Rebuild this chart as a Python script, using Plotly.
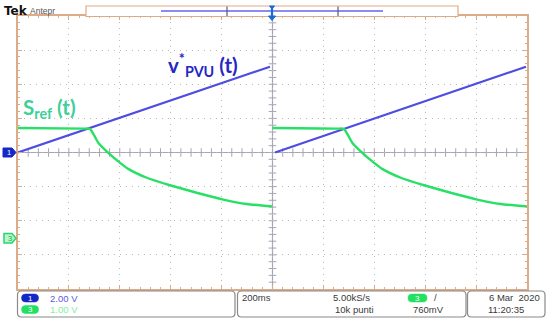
import plotly.graph_objects as go

# ---- data (seconds, volts) ----
t_blue = [0.0, 0.99, None, 1.01, 1.996]
v_blue = [0.0, 5.03, None, 0.0, 5.03]

t_green1 = [0.0, 0.26, 0.283, 0.316, 0.355, 0.394, 0.433, 0.506, 0.597, 0.702, 0.807, 0.899, 0.998]
v_green1 = [3.22, 3.20, 3.19, 2.78, 2.49, 2.24, 2.02, 1.76, 1.54, 1.32, 1.12, 0.99, 0.92]
t_green2 = [1.0, 1.258, 1.281, 1.314, 1.353, 1.392, 1.431, 1.504, 1.595, 1.700, 1.805, 1.897, 2.0]
v_green2 = [3.22, 3.20, 3.19, 2.78, 2.49, 2.24, 2.02, 1.76, 1.54, 1.32, 1.12, 0.99, 0.92]

ch1_label = "2.00 V"
ch3_label = "1.00 V"
timebase = "200ms"
rate = "5.00kS/s"
points = "10k punti"
trig_level = "760mV"
date_txt = "6 Mar  2020"
time_txt = "11:20:35"

# ---- layout geometry (pixels) ----
W, H = 550, 323
PL, PR, PT, PB = 18, 527, 16, 289

def px(X):
    return (X - PL) / (PR - PL)

def py(Y):
    return (PB - Y) / (PB - PT)

BLUE = "#4f4ce2"
GREEN = "#27e065"
BORDER = "#dcab88"
GRID = "#b9b9b9"
CENTER = "#a5a5b5"

fig = go.Figure()
fig.add_trace(go.Scatter(x=t_blue, y=v_blue, mode="lines", line=dict(color=BLUE, width=2.2),
                         connectgaps=False, yaxis="y", showlegend=False, hoverinfo="skip"))
fig.add_trace(go.Scatter(x=t_green1, y=v_green1, mode="lines",
                         line=dict(color=GREEN, width=2.4, shape="spline", smoothing=0.6),
                         yaxis="y2", showlegend=False, hoverinfo="skip"))
fig.add_trace(go.Scatter(x=t_green2, y=v_green2, mode="lines",
                         line=dict(color=GREEN, width=2.4, shape="spline", smoothing=0.6),
                         yaxis="y2", showlegend=False, hoverinfo="skip"))

shapes = []
# center cross lines
shapes.append(dict(type="line", xref="x", yref="paper", x0=1.0, x1=1.0, y0=0, y1=1,
                   line=dict(color=CENTER, width=1.2), layer="below"))
shapes.append(dict(type="line", xref="paper", yref="y", x0=0, x1=1, y0=0, y1=0,
                   line=dict(color=CENTER, width=1.2), layer="below"))
# tick marks on center lines
for i in range(1, 50):
    tx = i * 0.04
    shapes.append(dict(type="line", xref="x", yref="y", x0=tx, x1=tx, y0=-0.25, y1=0.25,
                       line=dict(color=CENTER, width=1), layer="below"))
for i in range(1, 40):
    ty = -8 + i * 0.4
    shapes.append(dict(type="line", xref="x", yref="y", x0=0.985, x1=1.015, y0=ty, y1=ty,
                       line=dict(color=CENTER, width=1), layer="below"))

def rrect(x0, y0, x1, y1, r=4):
    # rounded rectangle in pixel coordinates -> paper path
    def P(X, Y):
        return f"{px(X):.5f},{py(Y):.5f}"
    return ("M " + P(x0 + r, y0) + " L " + P(x1 - r, y0) + " Q " + P(x1, y0) + " " + P(x1, y0 + r) +
            " L " + P(x1, y1 - r) + " Q " + P(x1, y1) + " " + P(x1 - r, y1) +
            " L " + P(x0 + r, y1) + " Q " + P(x0, y1) + " " + P(x0, y1 - r) +
            " L " + P(x0, y0 + r) + " Q " + P(x0, y0) + " " + P(x0 + r, y0) + " Z")

# status boxes
for (a, b) in [(17.5, 235), (237.5, 466), (467.5, 545)]:
    shapes.append(dict(type="path", xref="paper", yref="paper", path=rrect(a, 291, b, 317),
                       line=dict(color="#8a8a8a", width=1.2), fillcolor="rgba(0,0,0,0)"))
# channel pills in status box
shapes.append(dict(type="path", xref="paper", yref="paper", path=rrect(21.5, 294, 38.5, 302, 4),
                   line=dict(color="#1428c8", width=0.5), fillcolor="#1428c8"))
shapes.append(dict(type="path", xref="paper", yref="paper", path=rrect(21.5, 305.5, 38.5, 313.5, 4),
                   line=dict(color="#22e060", width=0.5), fillcolor="#22e060"))
shapes.append(dict(type="path", xref="paper", yref="paper", path=rrect(408, 294, 427, 302, 4),
                   line=dict(color="#22e060", width=0.5), fillcolor="#22e060"))

# top record bar
shapes.append(dict(type="rect", xref="paper", yref="paper", x0=px(86), x1=px(458), y0=py(16.5), y1=py(6),
                   line=dict(color=BORDER, width=1.2), fillcolor="white"))
shapes.append(dict(type="line", xref="paper", yref="paper", x0=px(161), x1=px(383), y0=py(11), y1=py(11),
                   line=dict(color="#8c8cf0", width=2)))
for X in (227, 338):
    shapes.append(dict(type="line", xref="paper", yref="paper", x0=px(X), x1=px(X), y0=py(6.5), y1=py(16),
                       line=dict(color="#5a5a78", width=1.2)))
shapes.append(dict(type="path", xref="paper", yref="paper",
                   path=f"M {px(269.5)},{py(6)} L {px(274.5)},{py(6)} L {px(272)},{py(9)} Z",
                   line=dict(color="#1a6ad8", width=1), fillcolor="#1a6ad8"))
shapes.append(dict(type="line", xref="paper", yref="paper", x0=px(272), x1=px(272), y0=py(7), y1=py(17),
                   line=dict(color="#1a6ad8", width=2.2)))
shapes.append(dict(type="path", xref="paper", yref="paper",
                   path=f"M {px(268.5)},{py(16)} L {px(275.5)},{py(16)} L {px(272)},{py(20.5)} Z",
                   line=dict(color="#1a6ad8", width=1), fillcolor="#1a6ad8"))

# channel ground markers on left
shapes.append(dict(type="path", xref="paper", yref="paper",
                   path=f"M {px(3)},{py(148)} L {px(12)},{py(148)} L {px(16)},{py(152.5)} L {px(12)},{py(157)} L {px(3)},{py(157)} Z",
                   line=dict(color="#1428c8", width=1), fillcolor="#1428c8"))
shapes.append(dict(type="path", xref="paper", yref="paper",
                   path=f"M {px(4)},{py(233.5)} L {px(12)},{py(233.5)} L {px(16)},{py(238.3)} L {px(12)},{py(243)} L {px(4)},{py(243)} Z",
                   line=dict(color="#2ed36e", width=1.5), fillcolor="#b8f5cc"))

TXT = "#3a3a3a"
FONT = "Liberation Sans"
ann = []
def A(X, Y, text, size=9.5, color=TXT, anchor="left", family=FONT):
    ann.append(dict(xref="paper", yref="paper", x=px(X), y=py(Y), text=text, showarrow=False,
                    xanchor=anchor, yanchor="middle", font=dict(size=size, color=color, family=family)))

A(2, 11, "<b>Tek</b>", size=12, color="#111111", family="DejaVu Sans")
A(28, 11, "Antepr", size=8.5, color="#555555")
A(30, 298, "1", size=8, color="white", anchor="center")
A(30, 309.5, "3", size=8, color="white", anchor="center")
A(48, 298, ch1_label, size=9.5, color="#5c5ce0")
A(48, 309.5, ch3_label, size=9.5, color="#7ef0a4")
A(240, 297.5, timebase, size=9.5)
A(331, 297.5, rate, size=9.5)
A(333, 309.5, points, size=9.5)
A(417.5, 298, "3", size=8, color="white", anchor="center")
A(432, 297.5, "/", size=9.5)
A(411, 309.5, trig_level, size=9.5)
A(542, 297.5, date_txt, size=9.5, anchor="right")
A(486, 309.5, time_txt, size=9.5)
A(9, 152.5, "1", size=7.5, color="white", anchor="center")
A(9.5, 238.3, "3", size=7.5, color="#22b050", anchor="center")

ann.append(dict(xref="paper", yref="paper", x=px(166), y=py(65), xanchor="left", yanchor="middle",
                text="<b>v<sup>*</sup><sub>PVU</sub> (t)</b>", showarrow=False,
                font=dict(size=20.5, color="#2626c4", family="Lato")))
ann.append(dict(xref="paper", yref="paper", x=px(21), y=py(108), xanchor="left", yanchor="middle",
                text="<b>S<sub>ref</sub> (t)</b>", showarrow=False,
                font=dict(size=20.5, color="#3ecf9a", family="Lato")))

fig.update_layout(
    width=W, height=H,
    margin=dict(l=PL, r=W - PR, t=PT, b=H - PB, pad=0),
    paper_bgcolor="white", plot_bgcolor="white",
    shapes=shapes, annotations=ann,
    xaxis=dict(range=[0, 2.0], dtick=0.2, showgrid=True, gridcolor=GRID, griddash="1px,5px", gridwidth=1.2,
               zeroline=False, showticklabels=False, showline=True, linecolor=BORDER, linewidth=1.5,
               mirror="ticks", ticks="inside", ticklen=4, tickcolor=BORDER,
               minor=dict(ticks="inside", dtick=0.04, ticklen=2.5, tickcolor=BORDER, showgrid=False),
               fixedrange=True),
    yaxis=dict(range=[-8, 8], dtick=2, showgrid=True, gridcolor=GRID, griddash="1px,5px", gridwidth=1.2,
               zeroline=False, showticklabels=False, showline=True, linecolor=BORDER, linewidth=1.5,
               mirror="ticks", ticks="inside", ticklen=4, tickcolor=BORDER,
               minor=dict(ticks="inside", dtick=0.4, ticklen=2.5, tickcolor=BORDER, showgrid=False),
               fixedrange=True),
    yaxis2=dict(range=[-1.5, 6.5], overlaying="y", visible=False, fixedrange=True),
)

fig.write_html("out.html", config={"displayModeBar": False},
               post_script="document.body.style.margin='0px';document.body.style.overflow='hidden';")
